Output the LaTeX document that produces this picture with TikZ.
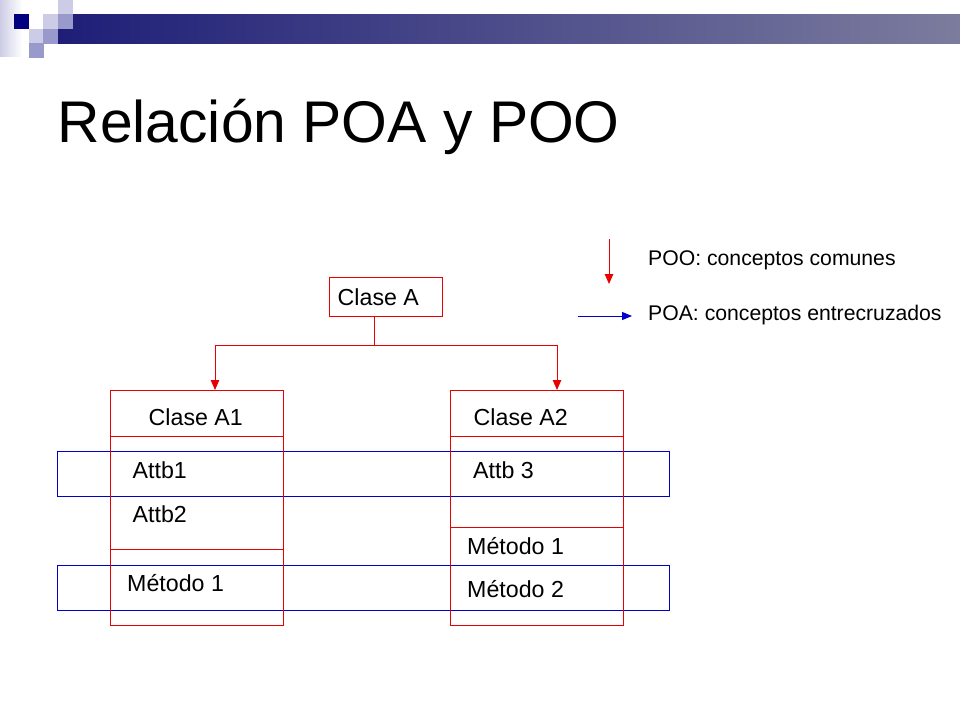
\documentclass[tikz,border=0pt]{standalone}
\usepackage{fontspec}
\setmainfont{Liberation Sans}
\usetikzlibrary{arrows.meta}
\definecolor{navy}{RGB}{0,0,128}
\definecolor{lavA}{RGB}{204,204,230}
\definecolor{lavB}{RGB}{153,153,204}
\definecolor{barL}{RGB}{30,30,120}
\definecolor{barR}{RGB}{124,124,158}
\definecolor{ured}{RGB}{230,0,0}
\definecolor{ublue}{RGB}{0,0,200}

\begin{document}
\begin{tikzpicture}[x=1pt,y=-1pt,
    cls/.style={draw=ured, line width=1pt, inner sep=0pt, anchor=north west},
    aspect/.style={draw=ublue, line width=1pt, inner sep=0pt, anchor=north west,
        minimum width=612pt, minimum height=45pt},
    txt/.style={inner sep=0pt, anchor=base west, font=\fontsize{23.2}{27}\selectfont},
    leg/.style={inner sep=0pt, anchor=base west, font=\fontsize{21.2}{25}\selectfont},
    tree/.style={ured, line width=1pt, -{Triangle[length=10pt,width=8.5pt]}},
    cross/.style={ublue, line width=1pt, -{Triangle[length=10pt,width=8pt]}}]
    \useasboundingbox (0,0) rectangle (960,720);
    % banner
    \shade[left color=lavA, right color=white] (0,0) rectangle (22,56);
    \shade[left color=barL, right color=barR] (58,14) rectangle (960,43);
    \foreach \x/\y/\c in {14/14/navy, 43/14/lavA, 58/0/lavA, 58/14/lavB,
        29/29/lavA, 43/29/lavB, 29/43/lavB}
        \fill[\c] (\x,\y) rectangle ++(14.5,14.5);
    \node[inner sep=0pt, anchor=base west, font=\fontsize{58.8}{70}\selectfont]
        (title) at (57.5,142) {Relación POA y POO};

    % legend
    \coordinate (pooTop) at (609,239);
    \coordinate (pooEnd) at (609,284);
    \coordinate (poaStart) at (578,316);
    \coordinate (poaEnd) at (632,316);
    \draw[tree] (pooTop) -- (pooEnd);
    \draw[cross] (poaStart) -- (poaEnd);
    \node[leg] (poo) at (648,265) {POO: conceptos comunes};
    \node[leg] (poa) at (648,320.5) {POA: conceptos entrecruzados};

    % crosscutting concerns
    \node[aspect] (attbs) at (57,451) {};
    \node[aspect] (metodos) at (57,565) {};

    % classes
    \node[cls, minimum width=113pt, minimum height=39pt] (claseA) at (329,277) {};
    \node[txt] at (337.5,305) {Clase A};
    \node[cls, minimum width=173pt, minimum height=235pt] (a1) at (110,390) {};
    \node[cls, minimum width=173pt, minimum height=235pt] (a2) at (450,390) {};
    \draw[ured, line width=1pt]
    ([yshift=-46pt]a1.north west) -- ([yshift=-46pt]a1.north east)
    ([yshift=-159pt]a1.north west) -- ([yshift=-159pt]a1.north east)
    ([yshift=-46pt]a2.north west) -- ([yshift=-46pt]a2.north east)
    ([yshift=-137pt]a2.north west) -- ([yshift=-137pt]a2.north east)
;
    \node[txt] (a1name) at (148.5,425.3) {Clase A1};
    \node[txt] (attb1) at (132.5,478.7) {Attb1};
    \node[txt] (attb2) at (132.5,522.7) {Attb2};
    \node[txt] (a1met1) at (127,591.7) {Método 1};
    \node[txt] (a2name) at (473.5,425.3) {Clase A2};
    \node[txt] (attb3) at (473,478.7) {Attb 3};
    \node[txt] (a2met1) at (467,554.3) {Método 1};
    \node[txt] (a2met2) at (467,597.3) {Método 2};

    % inheritance
    \coordinate (split) at (374,345);
    \draw[ured, line width=1pt] (claseA.south -| split) -- (split);
    \draw[tree] (split) -| ([xshift=18pt]a1.north);
    \draw[tree] (split) -| ([xshift=20pt]a2.north);
\end{tikzpicture}
\end{document}
